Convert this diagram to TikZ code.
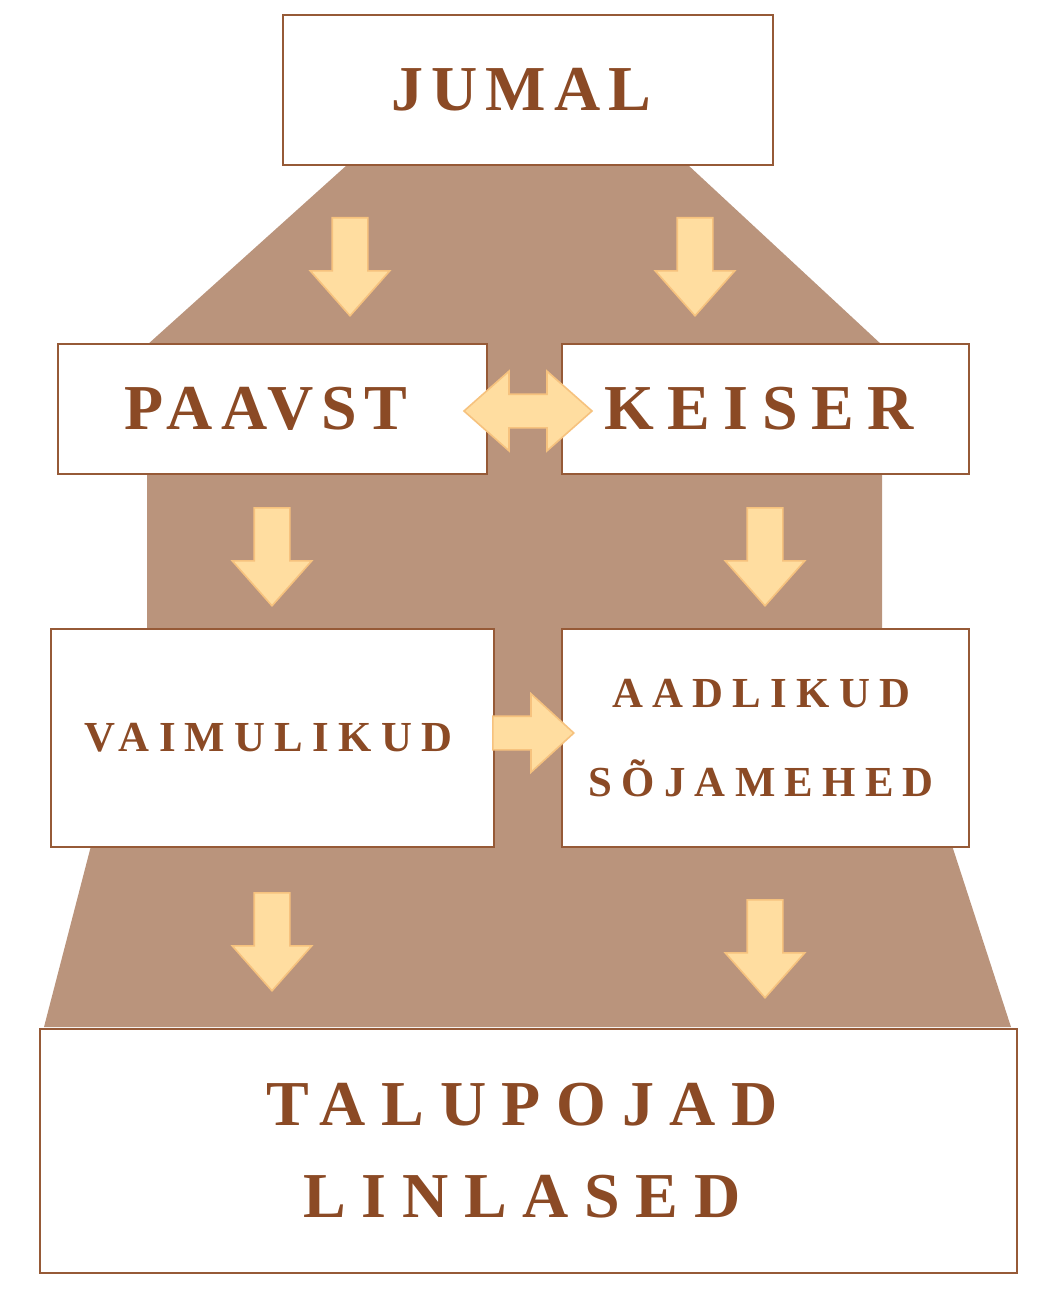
\documentclass[tikz,border=0pt]{standalone}
\usepackage{fontspec}
\setmainfont{Liberation Serif}
\usetikzlibrary{shapes.arrows}
\definecolor{bgbrown}{RGB}{186,148,124}
\definecolor{txtbrown}{RGB}{139,74,37}
\definecolor{boxline}{RGB}{150,90,55}
\definecolor{arrfill}{RGB}{255,221,160}
\definecolor{arrline}{RGB}{246,194,126}
\newcommand\trail{\kern0.2em}
\tikzset{
  level/.style={rectangle, draw=boxline, line width=0.7pt, fill=white, inner sep=0pt, align=center, text=txtbrown},
  bigtxt/.style={font=\bfseries\fontsize{32}{46}\selectfont\addfontfeature{LetterSpace=#1}},
  smalltxt/.style={font=\bfseries\fontsize{21.4}{44.5}\selectfont\addfontfeature{LetterSpace=#1}},
  blockarr/.style={fill=arrfill, draw=arrline, line width=0.8pt, inner sep=8.5pt, minimum width=39pt},
  downarr/.style={blockarr, single arrow, shape border rotate=270, minimum height=49pt, single arrow head extend=11pt, single arrow tip angle=83, anchor=tip},
  rightarr/.style={blockarr, single arrow, inner sep=8pt, minimum width=38.5pt, minimum height=40.5pt, single arrow head extend=11.2pt, single arrow tip angle=85, anchor=tip},
  botharr/.style={blockarr, double arrow, inner sep=8pt, minimum height=64pt, double arrow head extend=11.5pt, double arrow tip angle=83}
}
\begin{document}
\begin{tikzpicture}[x=0.5pt, y=-0.5pt]
        \useasboundingbox (0,0) rectangle (1050,1302);
        % Background
        \fill[bgbrown] (347,165) -- (688,165) -- (882,345) -- (882,630) -- (1011,1027)
            -- (44,1027) -- (147,630) -- (147,345) -- cycle;
        % Levels
        \node (jumal) at (528,90) [level, bigtxt=12.7, minimum width=245pt, minimum height=75pt] {JUMAL\trail};
        \node (paavst) at (272.5,409) [level, bigtxt=12.5, minimum width=214.5pt, minimum height=65pt] {PAAVST\trail};
        \node (keiser) at (765.5,409) [level, bigtxt=21, minimum width=203.5pt, minimum height=65pt] {KEISER\trail};
        \node (vaimulikud) at (272.5,738) [level, smalltxt=21.6, minimum width=221.5pt, minimum height=109pt] {VAIMULIKUD\trail};
        \node (aadlikud) at (765.5,738) [level, smalltxt=21.6, minimum width=203.5pt, minimum height=109pt] {AADLIKUD\trail\\SÕJAMEHED\trail};
        \node (talupojad) at (528.5,1151) [level, bigtxt=24.5, minimum width=488.5pt, minimum height=122pt] {TALUPOJAD\trail\\LINLASED\trail};
        % Arrows
        \node (a1) at (350,317) [downarr] {};
        \node (a2) at (695,317) [downarr] {};
        \node (a3) at (272,607) [downarr] {};
        \node (a4) at (765,607) [downarr] {};
        \node (a5) at (272,992) [downarr] {};
        \node (a6) at (765,999) [downarr] {};
        \node (a7) at (575,733) [rightarr] {};
        \node (a8) at (528,411) [botharr] {};
\end{tikzpicture}
\end{document}
